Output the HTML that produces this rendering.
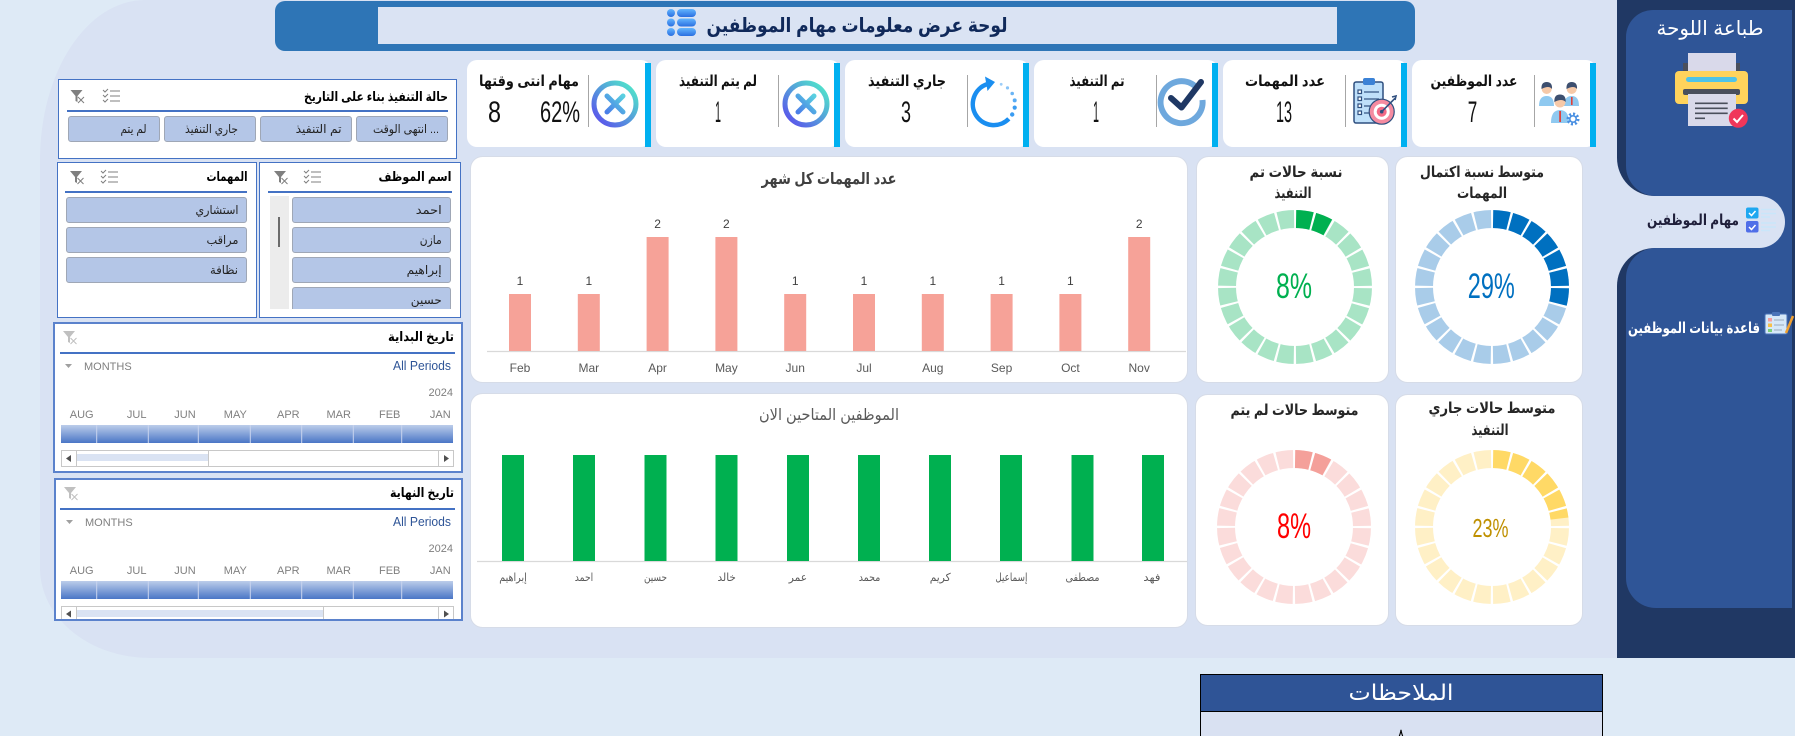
<!DOCTYPE html>
<html><head><meta charset="utf-8">
<style>
*{margin:0;padding:0;box-sizing:border-box}
html,body{width:1795px;height:736px;overflow:hidden;background:#deeaf6}
body{position:relative;font-family:"Liberation Sans","DejaVu Sans",sans-serif}
.p{position:absolute}
.sl{position:absolute;background:#fff;border:1px solid #4472c4}
.tl{position:absolute;background:#fff;border:2px solid #5b82cc}
.btn{position:absolute;background:#b4c6e7;border:1px solid #9fa7b6;border-radius:3px}
svg text{font-family:"Liberation Sans","DejaVu Sans",sans-serif}
</style></head><body>

<!-- main panel -->
<div class="p" style="left:40px;top:0;width:1755px;height:658px;background:#d9e2f3;border-top-left-radius:105px 160px;border-bottom-left-radius:110px 90px"></div>

<!-- header -->
<div class="p" style="left:275px;top:1px;width:1140px;height:50px;background:#2e75b6;border-radius:10px"></div>
<div class="p" style="left:378px;top:7px;width:959px;height:37px;background:#dae3f3"></div>

<!-- slicer 1 -->
<div class="sl" style="left:58px;top:79px;width:399px;height:80px"></div>
<div class="p" style="left:67px;top:110px;width:381px;height:1.5px;background:#4472c4"></div>
<div class="btn" style="left:356px;top:116px;width:92px;height:26px"></div>
<div class="btn" style="left:260px;top:116px;width:92px;height:26px"></div>
<div class="btn" style="left:164px;top:116px;width:92px;height:26px"></div>
<div class="btn" style="left:68px;top:116px;width:92px;height:26px"></div>

<!-- slicer 2 -->
<div class="sl" style="left:57px;top:162px;width:200px;height:156px"></div>
<div class="p" style="left:65px;top:191px;width:182px;height:1.5px;background:#4472c4"></div>
<div class="btn" style="left:66px;top:197px;width:181px;height:26px"></div>
<div class="btn" style="left:66px;top:227px;width:181px;height:26px"></div>
<div class="btn" style="left:66px;top:257px;width:181px;height:26px"></div>

<!-- slicer 3 -->
<div class="sl" style="left:259px;top:162px;width:202px;height:156px;overflow:hidden"></div>
<div class="p" style="left:268px;top:191px;width:184px;height:1.5px;background:#4472c4"></div>
<div class="p" style="left:270px;top:196px;width:19px;height:113px;background:#ececec"></div>
<div class="p" style="left:278px;top:217px;width:2px;height:30px;background:#6b6b6b"></div>
<div class="btn" style="left:292px;top:197px;width:159px;height:26px"></div>
<div class="btn" style="left:292px;top:227px;width:159px;height:26px"></div>
<div class="btn" style="left:292px;top:257px;width:159px;height:26px"></div>
<div class="btn" style="left:292px;top:287px;width:159px;height:22px;border-bottom:none;border-radius:3px 3px 0 0"></div>

<!-- timeline 1 -->
<div class="tl" style="left:53px;top:322px;width:410px;height:151px"></div>
<div class="p" style="left:60px;top:352px;width:395px;height:1.5px;background:#4472c4"></div>
<div class="p" style="left:61px;top:425px;width:392px;height:18px;background:linear-gradient(#bccdea,#4a76c6)"></div>
<div class="p" style="left:61px;top:450px;width:393px;height:17px;border:1px solid #c8c8c8;background:#fff"></div>
<div class="p" style="left:77px;top:454px;width:131px;height:7px;background:#dae3f3"></div>
<div class="p" style="left:208px;top:450px;width:231px;height:17px;border:1px solid #c8c8c8;background:#fff"></div>
<div class="p" style="left:61px;top:450px;width:16px;height:17px;border:1px solid #c8c8c8;background:#fff"></div>
<div class="p" style="left:438px;top:450px;width:16px;height:17px;border:1px solid #c8c8c8;background:#fff"></div>

<!-- timeline 2 -->
<div class="tl" style="left:54px;top:478px;width:409px;height:143px;overflow:hidden"></div>
<div class="p" style="left:60px;top:508px;width:395px;height:1.5px;background:#4472c4"></div>
<div class="p" style="left:61px;top:581px;width:392px;height:18px;background:linear-gradient(#bccdea,#4a76c6)"></div>
<div class="p" style="left:61px;top:606px;width:393px;height:13px;border:1px solid #c8c8c8;border-bottom:none;background:#fff"></div>
<div class="p" style="left:77px;top:610px;width:246px;height:7px;background:#dae3f3"></div>
<div class="p" style="left:323px;top:606px;width:116px;height:13px;border:1px solid #c8c8c8;border-bottom:none;background:#fff"></div>
<div class="p" style="left:61px;top:606px;width:16px;height:13px;border:1px solid #c8c8c8;border-bottom:none;background:#fff"></div>
<div class="p" style="left:438px;top:606px;width:16px;height:13px;border:1px solid #c8c8c8;border-bottom:none;background:#fff"></div>

<!-- sidebar -->
<div class="p" style="left:1617px;top:0;width:178px;height:196px;background:#203864;border-bottom-left-radius:38px"></div>
<div class="p" style="left:1617px;top:248px;width:178px;height:410px;background:#203864;border-top-left-radius:38px"></div>
<div class="p" style="left:1760px;top:190px;width:35px;height:65px;background:#203864"></div>
<div class="p" style="left:1760px;top:190px;width:32px;height:65px;background:#2f5597"></div>
<div class="p" style="left:1626px;top:10px;width:166px;height:186px;background:#2f5597;border-radius:27px 0 0 30px"></div>
<div class="p" style="left:1626px;top:248px;width:166px;height:360px;background:#2f5597;border-radius:30px 0 0 30px"></div>
<div class="p" style="left:1600px;top:196px;width:185px;height:52px;background:#d9e2f3;border-radius:0 26px 26px 0"></div>

<!-- notes -->
<div class="p" style="left:1200px;top:674px;width:403px;height:38px;background:#2f5496;border:1px solid #000"></div>
<div class="p" style="left:1200px;top:711px;width:403px;height:30px;background:#d9e1f2;border:1px solid #000"></div>

<svg class="p" style="left:0;top:0" width="1795" height="736" viewBox="0 0 1795 736">
<defs>
<linearGradient id="gx" x1="1" y1="0" x2="0" y2="1"><stop offset="0" stop-color="#4ff0c8"/><stop offset="1" stop-color="#5b48ee"/></linearGradient>
<linearGradient id="gxx" x1="1" y1="0" x2="0" y2="1"><stop offset="0" stop-color="#5ad0e0"/><stop offset="1" stop-color="#4a7ee8"/></linearGradient>
<linearGradient id="gh" x1="0" y1="0" x2="0" y2="1"><stop offset="0" stop-color="#63b6ff"/><stop offset="1" stop-color="#2a6fe0"/></linearGradient>
</defs>

<!-- header title + icon -->
<text x="857" y="32" text-anchor="middle" font-size="20" font-weight="bold" fill="#10295a" textLength="301" lengthAdjust="spacingAndGlyphs">لوحة عرض معلومات مهام الموظفين</text>
<g fill="url(#gh)">
<circle cx="671" cy="13" r="4"/><rect x="677" y="9" width="19" height="8" rx="4"/>
<circle cx="671" cy="22.5" r="4"/><rect x="677" y="18.5" width="19" height="8" rx="4"/>
<circle cx="671" cy="32" r="4"/><rect x="677" y="28" width="19" height="8" rx="4"/>
</g>

<!-- KPI cards -->
<g>
<rect x="467" y="60" width="184" height="87" rx="10" fill="#fff"/><rect x="645" y="63" width="6" height="84" fill="#00b0f0"/>
<rect x="656" y="60" width="184" height="87" rx="10" fill="#fff"/><rect x="834" y="63" width="6" height="84" fill="#00b0f0"/>
<rect x="845" y="60" width="184" height="87" rx="10" fill="#fff"/><rect x="1023" y="63" width="6" height="84" fill="#00b0f0"/>
<rect x="1034" y="60" width="184" height="87" rx="10" fill="#fff"/><rect x="1212" y="63" width="6" height="84" fill="#00b0f0"/>
<rect x="1223" y="60" width="184" height="87" rx="10" fill="#fff"/><rect x="1401" y="63" width="6" height="84" fill="#00b0f0"/>
<rect x="1412" y="60" width="184" height="87" rx="10" fill="#fff"/><rect x="1590" y="63" width="6" height="84" fill="#00b0f0"/>
</g>
<g stroke="#a6a6a6" stroke-width="1">
<line x1="588.5" y1="75" x2="588.5" y2="127"/><line x1="778.5" y1="75" x2="778.5" y2="127"/>
<line x1="967.5" y1="75" x2="967.5" y2="127"/><line x1="1156.5" y1="75" x2="1156.5" y2="127"/>
<line x1="1345.5" y1="75" x2="1345.5" y2="127"/><line x1="1534.5" y1="75" x2="1534.5" y2="127"/>
</g>
<g font-size="15" font-weight="bold" fill="#111" text-anchor="middle" lengthAdjust="spacingAndGlyphs">
<text x="529" y="86" textLength="100" lengthAdjust="spacingAndGlyphs">مهام انتى وقتها</text>
<text x="718" y="86" textLength="78" lengthAdjust="spacingAndGlyphs">لم يتم التنفيذ</text>
<text x="907" y="86" textLength="78" lengthAdjust="spacingAndGlyphs">جاري التنفيذ</text>
<text x="1097" y="86" textLength="55" lengthAdjust="spacingAndGlyphs">تم التنفيذ</text>
<text x="1285" y="86" textLength="80" lengthAdjust="spacingAndGlyphs">عدد المهمات</text>
<text x="1474" y="86" textLength="87" lengthAdjust="spacingAndGlyphs">عدد الموظفين</text>
</g>
<g font-size="30" fill="#111" text-anchor="middle">
<text x="494.5" y="122" textLength="13" lengthAdjust="spacingAndGlyphs">8</text>
<text x="560" y="122" textLength="40" lengthAdjust="spacingAndGlyphs">62%</text>
<text x="718" y="122" textLength="6" lengthAdjust="spacingAndGlyphs">1</text>
<text x="906" y="122" textLength="10" lengthAdjust="spacingAndGlyphs">3</text>
<text x="1096" y="122" textLength="6" lengthAdjust="spacingAndGlyphs">1</text>
<text x="1284" y="122" textLength="16" lengthAdjust="spacingAndGlyphs">13</text>
<text x="1472.5" y="122" textLength="9.5" lengthAdjust="spacingAndGlyphs">7</text>
</g>

<!-- KPI icons -->
<g fill="none">
<circle cx="615" cy="104" r="21" stroke="url(#gx)" stroke-width="5"/>
<path d="M607 96 L623 112 M623 96 L607 112" stroke="url(#gxx)" stroke-width="5" stroke-linecap="round"/>
<circle cx="806" cy="104" r="21" stroke="url(#gx)" stroke-width="5"/>
<path d="M798 96 L814 112 M814 96 L798 112" stroke="url(#gxx)" stroke-width="5" stroke-linecap="round"/>
<path d="M986.8 84.3 A21 21 0 1 0 1008.8 118.8" stroke="#1a8ef0" stroke-width="4.5"/>
</g>
<polygon points="995,82 985,76.5 987.5,91" fill="#1a8ef0"/>
<g fill="#3a9cf2">
<circle cx="1001.2" cy="84.3" r="1.4" opacity="0.5"/><circle cx="1007.5" cy="87.9" r="1.6" opacity="0.6"/>
<circle cx="1012.2" cy="93.5" r="1.8" opacity="0.75"/><circle cx="1014.7" cy="100.4" r="2" opacity="0.85"/>
<circle cx="1014.7" cy="107.6" r="2.1"/><circle cx="1012.2" cy="114.5" r="2.2"/>
</g>
<path d="M1195 86 A21 21 0 1 0 1202.5 100" fill="none" stroke="#6ea8dd" stroke-width="6"/>
<polyline points="1171,98 1181.5,107.5 1201,82" fill="none" stroke="#1f3864" stroke-width="6" stroke-linecap="round" stroke-linejoin="round"/>
<!-- clipboard -->
<rect x="1354" y="82" width="29" height="41" rx="2" fill="#bfe0fa" stroke="#2f4f7f" stroke-width="1.5"/>
<rect x="1363" y="78" width="12" height="7" rx="2" fill="#3b82d6"/>
<g stroke="#2f4f7f" stroke-width="1.2">
<rect x="1358" y="90" width="3.5" height="3.5" fill="#fff"/><line x1="1364" y1="92" x2="1379" y2="92"/>
<rect x="1358" y="97" width="3.5" height="3.5" fill="#fff"/><line x1="1364" y1="99" x2="1379" y2="99"/>
<rect x="1358" y="104" width="3.5" height="3.5" fill="#fff"/><line x1="1364" y1="106" x2="1372" y2="106"/>
<rect x="1358" y="111" width="3.5" height="3.5" fill="#fff"/><line x1="1364" y1="113" x2="1370" y2="113"/>
</g>
<circle cx="1381.7" cy="111.7" r="12.5" fill="#f58ba0" stroke="#2f4f7f" stroke-width="1.2"/>
<circle cx="1381.7" cy="111.7" r="8" fill="#fff"/>
<circle cx="1381.7" cy="111.7" r="5" fill="#f26a86"/>
<circle cx="1381.7" cy="111.7" r="1.8" fill="#2f4f7f"/>
<line x1="1381.7" y1="111.7" x2="1395" y2="98.3" stroke="#2f4f7f" stroke-width="1.6"/>
<path d="M1392 97 L1396 96 L1395 100" fill="none" stroke="#2f4f7f" stroke-width="1.6"/>
<!-- people -->
<g>
<path d="M1539 106 Q1539 96 1546.7 96 Q1554 96 1554 106 Z" fill="#8fc9f0"/>
<circle cx="1546.7" cy="89" r="5" fill="#f6c9a8"/><path d="M1541.5 89 Q1541 82 1546.7 82 Q1552.5 82 1552 89 Q1549 85 1541.5 89Z" fill="#3d4f6f"/>
<path d="M1564 106 Q1564 96 1571.7 96 Q1579 96 1579 106 Z" fill="#8fc9f0"/>
<rect x="1571" y="97" width="1.6" height="8" fill="#e0403a"/>
<circle cx="1571.7" cy="89" r="5" fill="#f6c9a8"/><path d="M1566.5 89 Q1566 82 1571.7 82 Q1577.5 82 1577 89 Q1574 85 1566.5 89Z" fill="#3d4f6f"/>
<path d="M1551 123 Q1551 110 1560 110 Q1569 110 1569 123 Z" fill="#8fc9f0"/>
<rect x="1559.2" y="111" width="1.8" height="11" fill="#e0403a"/>
<circle cx="1560" cy="102" r="5.5" fill="#f6c9a8"/><path d="M1554.3 102 Q1554 94.5 1560 94.5 Q1566 94.5 1565.7 102 Q1562 98 1554.3 102Z" fill="#3d4f6f"/>
<circle cx="1573" cy="119" r="5" fill="none" stroke="#4a90e2" stroke-width="3" stroke-dasharray="2 1.9"/>
<circle cx="1573" cy="119" r="3.2" fill="none" stroke="#4a90e2" stroke-width="1.6"/>
</g>

<!-- slicer icons -->
<g fill="#7f7f7f" stroke="none">
<path d="M70.5 90 L82.5 90 L77.5 96 L77.5 102 L75.5 101 L75.5 96 Z"/>
<path d="M70 171 L82 171 L77 177 L77 183 L75 182 L75 177 Z"/>
<path d="M274 171 L286 171 L281 177 L281 183 L279 182 L279 177 Z"/>
</g>
<g fill="#c0c0c0"><path d="M63 331 L75 331 L70 337 L70 343 L68 342 L68 337 Z"/><path d="M64 487 L76 487 L71 493 L71 499 L69 498 L69 493 Z"/></g>
<g stroke="#7f7f7f" stroke-width="1" fill="none">
<path d="M78 97 L84 103 M84 97 L78 103"/><path d="M77.5 178 L83.5 184 M83.5 178 L77.5 184"/><path d="M281.5 178 L287.5 184 M287.5 178 L281.5 184"/>
<path d="M110 91 L120 91 M110 96 L120 96 M110 101 L120 101 M103 90 L105 92 L108 89 M103 95 L105 97 L108 94 M103 100 L105 102 L108 99"/>
<path d="M108 172 L118 172 M108 177 L118 177 M108 182 L118 182 M101 171 L103 173 L106 170 M101 176 L103 178 L106 175 M101 181 L103 183 L106 180"/>
<path d="M311 172 L321 172 M311 177 L321 177 M311 182 L321 182 M304 171 L306 173 L309 170 M304 176 L306 178 L309 175 M304 181 L306 183 L309 180"/>
</g>
<g stroke="#c0c0c0" stroke-width="1"><path d="M70.5 338 L76.5 344 M76.5 338 L70.5 344"/><path d="M71.5 494 L77.5 500 M77.5 494 L71.5 500"/></g>

<!-- slicer texts -->
<g fill="#000" text-anchor="middle">
<text x="376" y="101" font-size="13" font-weight="bold" textLength="144" lengthAdjust="spacingAndGlyphs">حالة التنفيذ بناء على التاريخ</text>
<text x="227" y="181" font-size="13" font-weight="bold" textLength="41" lengthAdjust="spacingAndGlyphs">المهمات</text>
<text x="415" y="181" font-size="13" font-weight="bold" textLength="73" lengthAdjust="spacingAndGlyphs">اسم الموظف</text>
<text x="421" y="341" font-size="13" font-weight="bold" textLength="66" lengthAdjust="spacingAndGlyphs">تاريخ البداية</text>
<text x="422" y="497" font-size="13" font-weight="bold" textLength="64" lengthAdjust="spacingAndGlyphs">تاريخ النهاية</text>
</g>
<g fill="#222" text-anchor="middle" font-size="12">
<text x="406" y="133" textLength="66" lengthAdjust="spacingAndGlyphs">انتهى الوقت ...</text>
<text x="318.6" y="133" textLength="46" lengthAdjust="spacingAndGlyphs">تم التنفيذ</text>
<text x="211.5" y="133" textLength="53" lengthAdjust="spacingAndGlyphs">جاري التنفيذ</text>
<text x="133.5" y="133" textLength="26" lengthAdjust="spacingAndGlyphs">لم يتم</text>
<text x="217" y="214" textLength="43" lengthAdjust="spacingAndGlyphs">استشاري</text>
<text x="222.5" y="244" textLength="32" lengthAdjust="spacingAndGlyphs">مراقب</text>
<text x="224" y="274" textLength="28" lengthAdjust="spacingAndGlyphs">نظافة</text>
<text x="428.8" y="214" textLength="26" lengthAdjust="spacingAndGlyphs">احمد</text>
<text x="430.8" y="244" textLength="22" lengthAdjust="spacingAndGlyphs">مازن</text>
<text x="424.2" y="274" textLength="35" lengthAdjust="spacingAndGlyphs">إبراهيم</text>
<text x="426.3" y="304" textLength="31" lengthAdjust="spacingAndGlyphs">حسين</text>
</g>

<!-- timeline texts -->
<g font-size="11" fill="#7f7f7f">
<polygon points="65,364 72,364 68.5,368" fill="#a0a0a0"/>
<text x="84" y="370">MONTHS</text>
<text x="453" y="396" text-anchor="end">2024</text>
<g text-anchor="middle">
<text x="81.7" y="418">AUG</text><text x="136.7" y="418">JUL</text><text x="185" y="418">JUN</text><text x="235.3" y="418">MAY</text>
<text x="288.3" y="418">APR</text><text x="338.7" y="418">MAR</text><text x="389.7" y="418">FEB</text><text x="440.3" y="418">JAN</text>
</g>
<polygon points="66,520 73,520 69.5,524" fill="#a0a0a0"/>
<text x="85" y="526">MONTHS</text>
<text x="453" y="552" text-anchor="end">2024</text>
<g text-anchor="middle">
<text x="81.7" y="574">AUG</text><text x="136.7" y="574">JUL</text><text x="185" y="574">JUN</text><text x="235.3" y="574">MAY</text>
<text x="288.3" y="574">APR</text><text x="338.7" y="574">MAR</text><text x="389.7" y="574">FEB</text><text x="440.3" y="574">JAN</text>
</g>
</g>
<text x="451" y="370" text-anchor="end" font-size="13" fill="#2f5597" textLength="58" lengthAdjust="spacingAndGlyphs">All Periods</text>
<text x="451" y="526" text-anchor="end" font-size="13" fill="#2f5597" textLength="58" lengthAdjust="spacingAndGlyphs">All Periods</text>
<g stroke="#c9d4ee" stroke-width="1">
<path d="M96.7 425 V443 M148.3 425 V443 M198.3 425 V443 M250.3 425 V443 M301.7 425 V443 M353.3 425 V443 M401.7 425 V443"/>
<path d="M96.7 581 V599 M148.3 581 V599 M198.3 581 V599 M250.3 581 V599 M301.7 581 V599 M353.3 581 V599 M401.7 581 V599"/>
</g>
<g fill="#505050">
<polygon points="66,458.5 71,455 71,462"/><polygon points="449,458.5 444,455 444,462"/>
<polygon points="66,614 71,610.5 71,617.5"/><polygon points="449,614 444,610.5 444,617.5"/>
</g>

<!-- chart 1 -->
<rect x="470.5" y="156.5" width="717" height="226" rx="12" fill="#fff" stroke="#d6dce8"/>
<text x="829" y="184" text-anchor="middle" font-size="16" font-weight="bold" fill="#404040" textLength="135" lengthAdjust="spacingAndGlyphs">عدد المهمات كل شهر</text>
<line x1="487" y1="351.5" x2="1186" y2="351.5" stroke="#d9d9d9" stroke-width="1.2"/>
<g fill="#f6a298">
<rect x="509" y="294" width="22" height="57"/>
<rect x="577.8" y="294" width="22" height="57"/>
<rect x="646.6" y="237" width="22" height="114"/>
<rect x="715.4" y="237" width="22" height="114"/>
<rect x="784.2" y="294" width="22" height="57"/>
<rect x="853" y="294" width="22" height="57"/>
<rect x="921.8" y="294" width="22" height="57"/>
<rect x="990.6" y="294" width="22" height="57"/>
<rect x="1059.4" y="294" width="22" height="57"/>
<rect x="1128.2" y="237" width="22" height="114"/>
</g>
<g font-size="12" fill="#404040" text-anchor="middle">
<text x="520" y="285">1</text><text x="588.8" y="285">1</text><text x="657.6" y="228">2</text><text x="726.4" y="228">2</text>
<text x="795.2" y="285">1</text><text x="864" y="285">1</text><text x="932.8" y="285">1</text><text x="1001.6" y="285">1</text>
<text x="1070.4" y="285">1</text><text x="1139.2" y="228">2</text>
</g>
<g font-size="12" fill="#595959" text-anchor="middle">
<text x="520" y="372">Feb</text><text x="588.8" y="372">Mar</text><text x="657.6" y="372">Apr</text><text x="726.4" y="372">May</text>
<text x="795.2" y="372">Jun</text><text x="864" y="372">Jul</text><text x="932.8" y="372">Aug</text><text x="1001.6" y="372">Sep</text>
<text x="1070.4" y="372">Oct</text><text x="1139.2" y="372">Nov</text>
</g>

<!-- chart 2 -->
<rect x="470.5" y="393.5" width="717" height="234" rx="12" fill="#fff" stroke="#d6dce8"/>
<text x="829" y="420" text-anchor="middle" font-size="16" fill="#595959" textLength="140" lengthAdjust="spacingAndGlyphs">الموظفين المتاحين الان</text>
<line x1="477" y1="561.5" x2="1187" y2="561.5" stroke="#d9d9d9" stroke-width="1.2"/>
<g fill="#00b050">
<rect x="502" y="455" width="22" height="106"/><rect x="573" y="455" width="22" height="106"/>
<rect x="644.5" y="455" width="22" height="106"/><rect x="715.5" y="455" width="22" height="106"/>
<rect x="787" y="455" width="22" height="106"/><rect x="858" y="455" width="22" height="106"/>
<rect x="929" y="455" width="22" height="106"/><rect x="1000" y="455" width="22" height="106"/>
<rect x="1071.5" y="455" width="22" height="106"/><rect x="1142" y="455" width="22" height="106"/>
</g>
<g font-size="11" fill="#595959" text-anchor="middle">
<text x="513" y="581" textLength="27.5" lengthAdjust="spacingAndGlyphs">إبراهيم</text>
<text x="584" y="581" textLength="18.4" lengthAdjust="spacingAndGlyphs">احمد</text>
<text x="655.5" y="581" textLength="23" lengthAdjust="spacingAndGlyphs">حسين</text>
<text x="726.7" y="581" textLength="18.4" lengthAdjust="spacingAndGlyphs">خالد</text>
<text x="797.9" y="581" textLength="18.4" lengthAdjust="spacingAndGlyphs">عمر</text>
<text x="869.5" y="581" textLength="21.6" lengthAdjust="spacingAndGlyphs">محمد</text>
<text x="940.2" y="581" textLength="21" lengthAdjust="spacingAndGlyphs">كريم</text>
<text x="1011.4" y="581" textLength="32" lengthAdjust="spacingAndGlyphs">إسماعيل</text>
<text x="1082.5" y="581" textLength="34" lengthAdjust="spacingAndGlyphs">مصطفى</text>
<text x="1151.9" y="581" textLength="17" lengthAdjust="spacingAndGlyphs">فهد</text>
</g>

<!-- donut cards -->
<rect x="1196.5" y="156.5" width="192" height="226" rx="12" fill="#fff" stroke="#d6dce8"/>
<rect x="1395.5" y="156.5" width="187" height="226" rx="12" fill="#fff" stroke="#d6dce8"/>
<rect x="1195.5" y="394.5" width="193" height="231" rx="12" fill="#fff" stroke="#d6dce8"/>
<rect x="1395.5" y="394.5" width="187" height="231" rx="12" fill="#fff" stroke="#d6dce8"/>

<g font-size="15" font-weight="bold" fill="#262626" text-anchor="middle">
<text x="1296" y="177" textLength="93" lengthAdjust="spacingAndGlyphs">نسبة حالات تم</text>
<text x="1293" y="198" textLength="37" lengthAdjust="spacingAndGlyphs">التنفيذ</text>
<text x="1482" y="177" textLength="124" lengthAdjust="spacingAndGlyphs">متوسط نسبة اكتمال</text>
<text x="1482" y="198" textLength="50" lengthAdjust="spacingAndGlyphs">المهمات</text>
<text x="1294.5" y="415" textLength="128" lengthAdjust="spacingAndGlyphs">متوسط حالات لم يتم</text>
<text x="1492" y="413" textLength="127" lengthAdjust="spacingAndGlyphs">متوسط حالات جاري</text>
<text x="1490" y="435" textLength="37" lengthAdjust="spacingAndGlyphs">التنفيذ</text>
</g>

<!-- donuts -->
<g fill="none">
<circle cx="1295" cy="287" r="68" stroke="#a8e4c5" stroke-width="18"/>
<circle cx="1295" cy="287" r="68" stroke="#00b050" stroke-width="18" stroke-dasharray="34.2 1000" transform="rotate(-90 1295 287)"/>
<circle cx="1295" cy="287" r="68" stroke="#fff" stroke-width="20" stroke-dasharray="2.2 15.6026" stroke-dashoffset="1.1" transform="rotate(-90 1295 287)"/>

<circle cx="1492" cy="287" r="68" stroke="#a9cce9" stroke-width="18"/>
<circle cx="1492" cy="287" r="68" stroke="#0070c0" stroke-width="18" stroke-dasharray="123.9 1000" transform="rotate(-90 1492 287)"/>
<circle cx="1492" cy="287" r="68" stroke="#fff" stroke-width="20" stroke-dasharray="2.2 15.6026" stroke-dashoffset="1.1" transform="rotate(-90 1492 287)"/>

<circle cx="1294" cy="527" r="68" stroke="#fbdcdb" stroke-width="18"/>
<circle cx="1294" cy="527" r="68" stroke="#f4a09a" stroke-width="18" stroke-dasharray="34.2 1000" transform="rotate(-90 1294 527)"/>
<circle cx="1294" cy="527" r="68" stroke="#fff" stroke-width="20" stroke-dasharray="2.2 15.6026" stroke-dashoffset="1.1" transform="rotate(-90 1294 527)"/>

<circle cx="1492" cy="527" r="68" stroke="#fff0c6" stroke-width="18"/>
<circle cx="1492" cy="527" r="68" stroke="#ffd966" stroke-width="18" stroke-dasharray="98.3 1000" transform="rotate(-90 1492 527)"/>
<circle cx="1492" cy="527" r="68" stroke="#fff" stroke-width="20" stroke-dasharray="2.2 15.6026" stroke-dashoffset="1.1" transform="rotate(-90 1492 527)"/>
</g>
<g text-anchor="middle">
<text x="1294" y="298" font-size="35" fill="#00b050" textLength="36" lengthAdjust="spacingAndGlyphs">8%</text>
<text x="1491.3" y="298" font-size="35" fill="#0070c0" textLength="47" lengthAdjust="spacingAndGlyphs">29%</text>
<text x="1294" y="538" font-size="35" fill="#ff0000" textLength="34" lengthAdjust="spacingAndGlyphs">8%</text>
<text x="1490.5" y="537" font-size="26" fill="#bf9000" textLength="36" lengthAdjust="spacingAndGlyphs">23%</text>
</g>

<!-- sidebar content -->
<text x="1710" y="35" text-anchor="middle" font-size="20" fill="#fff" textLength="107" lengthAdjust="spacingAndGlyphs">طباعة اللوحة</text>
<rect x="1683" y="63" width="57" height="10" fill="#4a4f5c"/>
<rect x="1688" y="53" width="48" height="19" fill="#d9d9ea"/>
<rect x="1675" y="71" width="73" height="33" rx="4" fill="#ffd35c"/>
<rect x="1686" y="77" width="51" height="5" rx="2.5" fill="#4fc3e8"/>
<rect x="1683" y="89" width="57" height="6" rx="2" fill="#4a4f5c"/>
<rect x="1688" y="94" width="48" height="32" fill="#d9d9ea"/>
<g stroke="#4a4f5c" stroke-width="1.6">
<line x1="1695" y1="103.3" x2="1727.7" y2="103.3"/><line x1="1695" y1="108.3" x2="1727.7" y2="108.3"/>
<line x1="1695" y1="113.3" x2="1727.7" y2="113.3"/><line x1="1695" y1="118.3" x2="1705" y2="118.3"/>
</g>
<circle cx="1738.3" cy="118.3" r="9.5" fill="#f0365a"/>
<polyline points="1733.5,118.5 1737,122 1743,115" fill="none" stroke="#fff" stroke-width="2"/>

<text x="1693" y="225" text-anchor="middle" font-size="15" font-weight="bold" fill="#1f1f3a" textLength="92" lengthAdjust="spacingAndGlyphs">مهام الموظفين</text>
<rect x="1746" y="207.5" width="12.5" height="11" rx="2" fill="#1ea7f0"/>
<rect x="1746" y="221" width="12.5" height="11.5" rx="2" fill="#4f6ee8"/>
<g stroke="#fff" stroke-width="1.5" fill="none"><polyline points="1749,213 1751.5,215.5 1755.5,211"/><polyline points="1749,227 1751.5,229.5 1755.5,225"/></g>
<g stroke="#c9e6fa" stroke-width="1.5"><line x1="1761" y1="209.5" x2="1776" y2="209.5"/><line x1="1761" y1="213.5" x2="1776" y2="213.5"/><line x1="1761" y1="217" x2="1770" y2="217"/>
<line x1="1761" y1="223" x2="1776" y2="223"/><line x1="1761" y1="227" x2="1776" y2="227"/><line x1="1761" y1="230.5" x2="1770" y2="230.5"/></g>

<text x="1694" y="333" text-anchor="middle" font-size="15" font-weight="bold" fill="#fff" textLength="132" lengthAdjust="spacingAndGlyphs">قاعدة بيانات الموظفين</text>
<rect x="1765" y="314" width="22" height="20" rx="1.5" fill="#d6e8f8" stroke="#4a73b8" stroke-width="1"/>
<rect x="1772" y="312" width="8" height="4" rx="1" fill="#4a73b8"/>
<rect x="1768" y="318" width="4" height="3.5" fill="#f5a0a0"/><rect x="1768" y="323.5" width="4" height="3.5" fill="#f7c04a"/><rect x="1768" y="329" width="4" height="3" fill="#7ccf7c"/>
<g stroke="#9ab" stroke-width="1"><line x1="1774" y1="320" x2="1784" y2="320"/><line x1="1774" y1="325" x2="1784" y2="325"/><line x1="1774" y1="330" x2="1782" y2="330"/></g>
<line x1="1786" y1="333" x2="1793" y2="316" stroke="#f0a030" stroke-width="2.5"/>

<!-- notes text -->
<text x="1401" y="700" text-anchor="middle" font-size="22" fill="#fff" textLength="105" lengthAdjust="spacingAndGlyphs">الملاحظات</text>
<text x="1401" y="738" text-anchor="middle" font-size="13" fill="#000">٨</text>
</svg>
</body></html>
